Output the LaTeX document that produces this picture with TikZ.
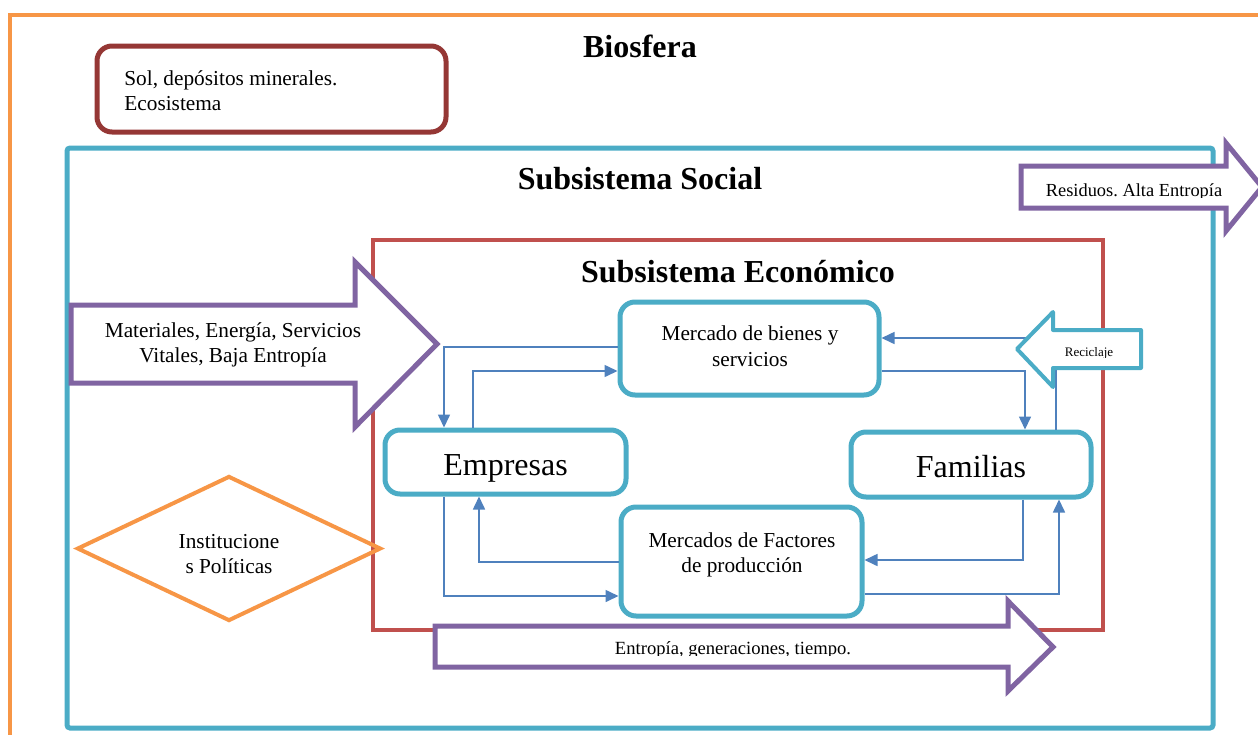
\documentclass[tikz,border=0pt]{standalone}
\usepackage{fontspec}
\setmainfont{Liberation Serif}
\frenchspacing
\usetikzlibrary{shapes.geometric,arrows.meta}
\definecolor{orng}{HTML}{F79646}
\definecolor{dkred}{HTML}{953735}
\definecolor{bxblue}{HTML}{4BACC6}
\definecolor{ecred}{HTML}{C0504D}
\definecolor{purp}{HTML}{8064A2}
\definecolor{cnblue}{HTML}{4F81BD}
\begin{document}
\begin{tikzpicture}[x=0.5pt,y=-0.5pt,
  txt/.style={font=\fontsize{10.65}{12.8}\selectfont, align=center, inner sep=0pt},
  ttl/.style={font=\fontsize{16}{19}\selectfont\bfseries, inner sep=0pt},
  rbox/.style={draw=bxblue, line width=2.5pt, rounded corners=7.5pt, fill=white, inner sep=0pt, align=center},
  bigtxt/.style={font=\fontsize{16}{19}\selectfont, text height=15pt, text depth=2pt},
  conn/.style={draw=cnblue, line width=0.8pt, -{Triangle[length=6.5pt,width=6pt]}},
  bigarrow/.style={draw=purp, line width=2.5pt, fill=white, line join=miter}]
\useasboundingbox (0,0) rectangle (1258,734);
\clip (0,0) rectangle (1258,734);
% Biosfera
\draw[orng, line width=2pt] (10,15) rectangle (1300,800);
\node[ttl] (bio) at (640,46) {Biosfera};
\node[draw=dkred, line width=2.5pt, rounded corners=7.5pt, minimum width=174.5pt, minimum height=43pt,
  inner xsep=13.5pt, inner ysep=0pt, text width=147.5pt, align=left,
  font=\fontsize{10.65}{12.8}\selectfont] (sol) at (271.5,89) {};
\node[txt, align=left, anchor=west] (soltxt) at (124,90.5) {Sol, depósitos minerales.\\Ecosistema};
% Social
\draw[bxblue, line width=2.5pt, rounded corners=1.5pt] (67,148) rectangle (1213,728);
\node[ttl] (soc) at (640,179) {Subsistema Social};
% Residuos arrow
\draw[bigarrow] (1021,166) -- (1226,166) -- (1226,143) -- (1262,187) -- (1226,231) -- (1226,208) -- (1021,208) -- cycle;
\begin{scope}
\clip (1021,150) rectangle (1226,197);
\node[font=\fontsize{9.2}{11}\selectfont, inner sep=0pt, anchor=base] (res) at (1134,196) {Residuos. Alta Entropía};
\end{scope}
% Economico
\draw[ecred, line width=2pt] (373,240) rectangle (1103,630);
\node[ttl] (eco) at (738,272) {Subsistema Económico};
% Materiales arrow
\draw[bigarrow] (71,305) -- (355,305) -- (355,262) -- (437,344) -- (355,427) -- (355,383) -- (71,383) -- cycle;
\node[txt] (mat) at (233,345) {Materiales, Energía, Servicios\\Vitales, Baja Entropía};
% Boxes
\node[rbox, minimum width=129.5pt, minimum height=46.5pt] (bienes) at (749.5,348.5) {};
\node[txt] (bientxt) at (750,346) {Mercado de bienes y\\servicios};
\node[rbox, minimum width=120.5pt, minimum height=32pt, bigtxt] (emp) at (505.5,462) {Empresas};
\node[rbox, minimum width=120pt, minimum height=32.5pt, bigtxt] (fam) at (971,464.5) {Familias};
\node[rbox, minimum width=120.5pt, minimum height=54.5pt] (fact) at (741.5,561.5) {};
\node[txt] (facttxt) at (742,555) {Mercados de Factores\\de producción};
% Instituciones
\node[diamond, draw=orng, line width=2pt, minimum width=152pt, minimum height=72.5pt, inner sep=0pt] (inst) at (229,548.5) {};
\node[txt] (insttxt) at (229,554) {Institucione\\s Políticas};
% Connectors
\draw[conn] (bienes.west |- 0,347) -| (emp.north -| 444,0);
\draw[conn] (emp.north -| 473,0) |- (bienes.west |- 0,371);
\draw[conn] (bienes.east |- 0,371) -| (fam.north -| 1025,0);
\draw[conn] (fam.north -| 1056,0) |- (bienes.east |- 0,338);
\draw[conn] (emp.south -| 444,0) |- (fact.west |- 0,596);
\draw[conn] (fact.west |- 0,562) -| (emp.south -| 479,0);
\draw[conn] (fam.south -| 1023,0) |- (fact.east |- 0,560);
\draw[conn] (fact.east |- 0,594) -| (fam.south -| 1059,0);
% Reciclaje arrow
\draw[draw=bxblue, line width=2pt, fill=white, line join=round] (1141,330) -- (1053,330) -- (1053,312) -- (1017,349) -- (1053,387) -- (1053,368) -- (1141,368) -- cycle;
\begin{scope}
\clip (1053,320) rectangle (1141,357);
\node[font=\fontsize{6.5}{8}\selectfont, inner sep=0pt, anchor=base] (rec) at (1089,356) {Reciclaje};
\end{scope}
% Entropia arrow
\draw[bigarrow] (435,626) -- (1008,626) -- (1008,601) -- (1053,647) -- (1008,691) -- (1008,667) -- (435,667) -- cycle;
\begin{scope}
\clip (435,630) rectangle (1008,655.5);
\node[font=\fontsize{9.3}{11}\selectfont, inner sep=0pt, anchor=base] (ent) at (733,654) {Entropía, generaciones, tiempo.};
\end{scope}
\end{tikzpicture}
\end{document}
